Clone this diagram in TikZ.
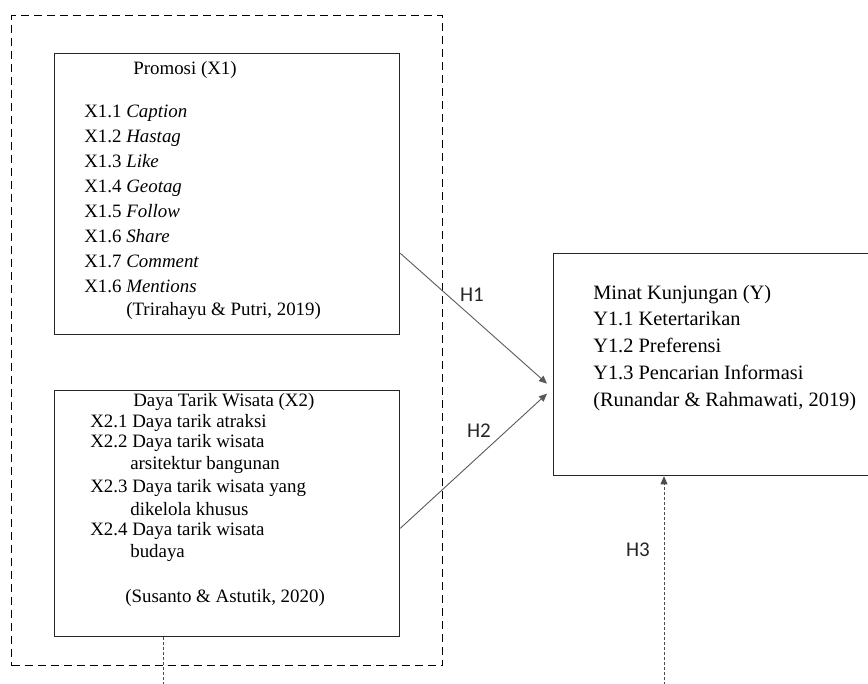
\documentclass[tikz,border=0pt]{standalone}
\usepackage{fontspec}
\setmainfont{Liberation Serif}
\newfontfamily\hfont{Carlito}
\usetikzlibrary{arrows.meta}

\begin{document}
\begin{tikzpicture}[x=1pt,y=-1pt,line width=0.6pt]
    \tikzstyle{box}=[rectangle,draw=black!85,line width=1.3pt,anchor=north west,inner sep=0pt]
    \tikzstyle{baris}=[anchor=base west,inner sep=0pt,font=\fontsize{18.9}{20}\selectfont]
    \tikzstyle{baris y}=[baris,font=\fontsize{20.4}{22}\selectfont]
    \tikzstyle{hipo}=[font=\hfont\fontsize{21}{22}\selectfont,text=black!85]
    \tikzstyle{panah}=[draw=black!65,line width=0.9pt,-{Triangle[length=8pt,width=7pt]}]
    \tikzstyle{garis putus}=[draw=black!70,line width=0.8pt,densely dashed]

    \useasboundingbox (0,0) rectangle (868,684);
    \clip (0,0) rectangle (868,684);

    % Draw the dashed frame and the three boxes
    \node[box,draw=black,line width=1.1pt,dash pattern=on 8pt off 5pt,
          minimum width=431pt,minimum height=650pt] (kerangka) at (11,15) {};
    \node[box,minimum width=345pt,minimum height=281pt] (promosi) at (54,53) {};
    \node[box,minimum width=345pt,minimum height=246pt] (wisata) at (54,390) {};
    \node[box,minimum width=330pt,minimum height=222pt] (minat) at (553,253) {};

    % Promosi (X1)
    \node[baris] (x1-judul) at (133,75) {Promosi (X1)};
    \foreach \n/\teks [count=\i] in {X1.1/Caption,X1.2/Hastag,X1.3/Like,X1.4/Geotag,
        X1.5/Follow,X1.6/Share,X1.7/Comment,X1.6/Mentions}
        \node[baris] (x1-\i) at (84,93+25*\i) {\n\ \textit{\teks}};
    \node[baris] (x1-sumber) at (126,316) {(Trirahayu \& Putri, 2019)};

    % Daya Tarik Wisata (X2)
    \node[baris] (x2-judul) at (133,407) {Daya Tarik Wisata (X2)};
    \node[baris] (x2-1) at (90,428) {X2.1 Daya tarik atraksi};
    \node[baris] (x2-2) at (90,448) {X2.2 Daya tarik wisata};
    \node[baris] (x2-2b) at (130,470) {arsitektur bangunan};
    \node[baris] (x2-3) at (90,493) {X2.3 Daya tarik wisata yang};
    \node[baris] (x2-3b) at (130,515) {dikelola khusus};
    \node[baris] (x2-4) at (90,535) {X2.4 Daya tarik wisata};
    \node[baris] (x2-4b) at (130,557) {budaya};
    \node[baris] (x2-sumber) at (125,602) {(Susanto \& Astutik, 2020)};

    % Minat Kunjungan (Y)
    \node[baris y] (y-judul) at (593,300) {Minat Kunjungan (Y)};
    \node[baris y] (y-1) at (593,326) {Y1.1 Ketertarikan};
    \node[baris y] (y-2) at (593,353) {Y1.2 Preferensi};
    \node[baris y] (y-3) at (593,380) {Y1.3 Pencarian Informasi};
    \node[baris y] (y-sumber) at (593,407) {(Runandar \& Rahmawati, 2019)};

    % Hypotheses
    \coordinate (ujung1) at ([xshift=-6pt,yshift=-19pt]minat.west);
    \coordinate (ujung2) at ([xshift=-6pt,yshift=-29pt]minat.west);
    \path[panah] ([yshift=82pt]promosi.south east) -- (ujung1);
    \path[panah] ([yshift=109pt]wisata.south east) -- (ujung2);

    \coordinate (bawah1) at (163,690);
    \coordinate (bawah2) at (664,690);
    \path[garis putus] ([xshift=109pt]wisata.south west) -- (bawah1);
    \path[garis putus,-{Triangle[length=8pt,width=7pt]}] (bawah2) -- ([xshift=111pt]minat.south west);

    \node[hipo] (h1) at (472,295) {H1};
    \node[hipo] (h2) at (479,431) {H2};
    \node[hipo] (h3) at (638,550) {H3};
\end{tikzpicture}
\end{document}
